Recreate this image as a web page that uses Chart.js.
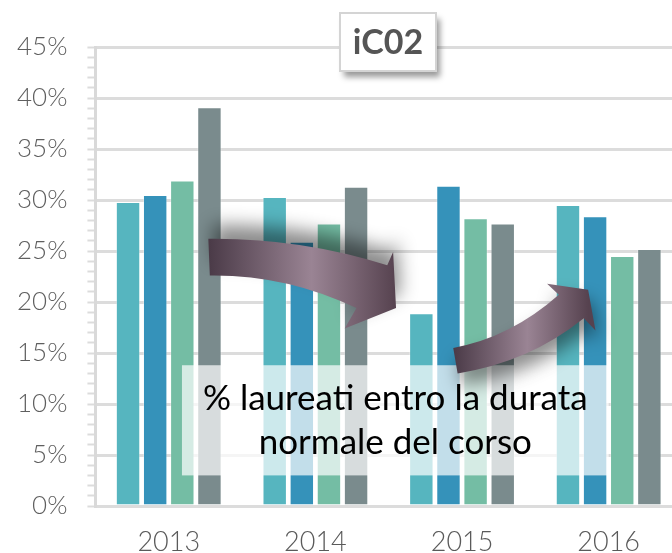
<!DOCTYPE html>
<html>
<head>
<meta charset="utf-8">
<script src="https://cdn.jsdelivr.net/npm/chart.js@4.4.1/dist/chart.umd.min.js"></script>
<style>
  html, body { margin: 0; padding: 0; overflow: hidden; background: #fff; }
  #wrap { position: absolute; left: 0; top: 0; width: 682px; height: 553px; }
</style>
</head>
<body>
<div id="wrap"><canvas id="chart"></canvas></div>
<script>
const years = ["2013", "2014", "2015", "2016"];
const seriesA = [29.8, 30.3, 18.9, 29.5];
const seriesB = [30.5, 25.9, 31.4, 28.4];
const seriesC = [31.9, 27.7, 28.2, 24.5];
const seriesD = [39.1, 31.3, 27.7, 25.2];
const barColors = ['#56b5bf', '#3592ba', '#74bda4', '#7a8b8d'];
const titleText = "iC02";
const noteLines = ["% laureati entro la durata", "normale del corso"];

// position helper: category index (fractional) and percent value -> pixels
function pt(chart, c, v) {
    const x = chart.scales.x;
    const y = chart.scales.y;
    const x0 = x.getPixelForValue(0);
    const w = x.getPixelForValue(1) - x0;
    return [x0 + c * w, y.getPixelForValue(v)];
}

function drawArrow(chart, shape, light, shadowY) {
    const ctx = chart.ctx;
    const p = k => pt(chart, shape[k][0], shape[k][1]);
    const t1 = p('tailTop'), c1 = p('topCtrl'), j1 = p('joinTop');
    const b1 = p('barbTop'), tip = p('tip'), b2 = p('barbBottom');
    const j2 = p('joinBottom'), c2 = p('bottomCtrl'), t2 = p('tailBottom');
    const g = ctx.createLinearGradient(t1[0], 0, tip[0], 0);
    g.addColorStop(0, '#4a3a47');
    g.addColorStop(light, '#9a8494');
    g.addColorStop(1, '#56424f');
    ctx.save();
    ctx.shadowColor = 'rgba(0,0,0,0.45)';
    ctx.shadowBlur = 18;
    ctx.shadowOffsetX = 4;
    ctx.shadowOffsetY = shadowY;
    ctx.fillStyle = g;
    ctx.beginPath();
    ctx.moveTo(t1[0], t1[1]);
    ctx.quadraticCurveTo(c1[0], c1[1], j1[0], j1[1]);
    ctx.lineTo(b1[0], b1[1]);
    ctx.lineTo(tip[0], tip[1]);
    ctx.lineTo(b2[0], b2[1]);
    ctx.lineTo(j2[0], j2[1]);
    ctx.quadraticCurveTo(c2[0], c2[1], t2[0], t2[1]);
    ctx.closePath();
    ctx.fill();
    ctx.restore();
}

// arrow outlines in (category, percent) units
const arrowDown = {
    tailTop: [0.27, 26.2], topCtrl: [0.90, 26.3], joinTop: [1.49, 23.6],
    barbTop: [1.53, 24.9], tip: [1.55, 19.4], barbBottom: [1.20, 17.4],
    joinBottom: [1.28, 19.4], bottomCtrl: [0.80, 22.7], tailBottom: [0.28, 22.6]
};
const arrowUp = {
    tailTop: [1.94, 15.5], topCtrl: [2.33, 16.5], joinTop: [2.66, 20.7],
    barbTop: [2.58, 21.8], tip: [2.86, 21.2], barbBottom: [2.91, 17.2],
    joinBottom: [2.83, 18.4], bottomCtrl: [2.46, 14.1], tailBottom: [1.97, 13.0]
};

const overlay = {
    id: 'overlay',
    afterDatasetsDraw(chart) {
        const ctx = chart.ctx;
        // note box
        const a = pt(chart, 0.09, 13.8);
        const b = pt(chart, 3.0, 3.0);
        ctx.save();
        ctx.fillStyle = 'rgba(255,255,255,0.7)';
        ctx.fillRect(a[0], a[1], b[0] - a[0], b[1] - a[1]);
        ctx.restore();

        drawArrow(chart, arrowDown, 0.55, -14);
        drawArrow(chart, arrowUp, 0.55, 12);

        // note text
        ctx.save();
        ctx.fillStyle = '#000';
        ctx.font = '35px Lato';
        ctx.textAlign = 'center';
        ctx.textBaseline = 'alphabetic';
        const cx = (a[0] + b[0]) / 2;
        ctx.fillText(noteLines[0], cx, a[1] + 45);
        ctx.fillText(noteLines[1], cx, a[1] + 89);
        ctx.restore();

        // title box
        const top = chart.chartArea.top;
        const bx = 340, bw = 96, by = top - 34, bh = 58;
        ctx.save();
        ctx.shadowColor = 'rgba(0,0,0,0.4)';
        ctx.shadowBlur = 6;
        ctx.shadowOffsetX = 4;
        ctx.shadowOffsetY = 6;
        ctx.fillStyle = '#fff';
        ctx.fillRect(bx, by, bw, bh);
        ctx.restore();
        ctx.save();
        ctx.strokeStyle = '#d4d4d4';
        ctx.lineWidth = 2;
        ctx.strokeRect(bx, by, bw, bh);
        ctx.fillStyle = '#555';
        ctx.font = 'bold 34px Lato';
        ctx.textAlign = 'center';
        ctx.textBaseline = 'middle';
        ctx.fillText(titleText, bx + bw / 2, by + bh / 2 + 1);
        ctx.restore();
    }
};

const ctx = document.getElementById('chart').getContext('2d');
new Chart(ctx, {
    type: 'bar',
    data: {
        labels: years,
        datasets: [seriesA, seriesB, seriesC, seriesD].map((d, i) => ({
            label: 'S' + (i + 1),
            data: d,
            backgroundColor: barColors[i],
            borderColor: 'rgba(255,255,255,0.35)',
            borderWidth: 1,
            categoryPercentage: 0.74,
            barPercentage: 0.9
        }))
    },
    options: {
        responsive: true,
        maintainAspectRatio: false,
        animation: false,
        layout: { padding: { top: 47, left: -3, right: 0, bottom: -26 } },
        plugins: {
            legend: { display: false },
            tooltip: { enabled: false }
        },
        scales: {
            x: {
                grid: { display: false, drawTicks: false },
                border: { display: false },
                ticks: {
                    color: '#5a5a5a',
                    font: { family: 'Lato', size: 27, weight: 300, lineHeight: 1 },
                    padding: 23
                }
            },
            y: {
                min: 0,
                max: 45,
                border: { color: '#d9d9d9', width: 3 },
                grid: {
                    lineWidth: 3,
                    tickLength: 8,
                    color: c => (c.tick && c.tick.value % 5 === 0) ? '#dcdcdc' : 'rgba(0,0,0,0)',
                    tickColor: '#dcdcdc',
                    tickWidth: 2
                },
                ticks: {
                    stepSize: 1,
                    autoSkip: false,
                    padding: 20,
                    color: '#5f5f5f',
                    font: { family: 'Lato', size: 26, weight: 300 },
                    callback: v => v % 5 === 0 ? v + '%' : ''
                }
            }
        }
    },
    plugins: [overlay]
});
</script>
</body>
</html>
